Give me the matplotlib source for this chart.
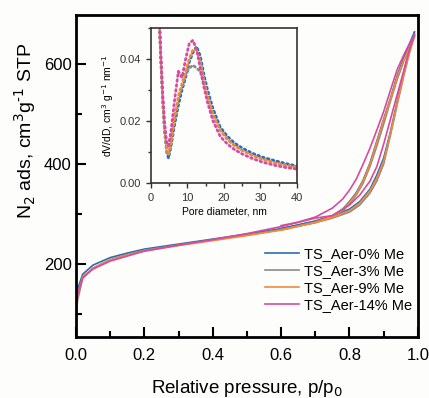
import numpy as np
import matplotlib
matplotlib.use('Agg')
import matplotlib.pyplot as plt
from matplotlib.ticker import MultipleLocator, FormatStrFormatter

plt.rcParams['font.family'] = ['Liberation Sans', 'DejaVu Sans']

# N2 isotherms: adsorption / desorption branches
p_ads = [0.0, 0.005, 0.02, 0.05, 0.1, 0.15, 0.2, 0.3, 0.4, 0.5, 0.6, 0.7,
         0.75, 0.8, 0.83, 0.86, 0.88, 0.9, 0.92, 0.94, 0.96, 0.975, 0.99]
p_des = [0.99, 0.975, 0.96, 0.94, 0.92, 0.9, 0.88, 0.86, 0.84, 0.82, 0.8,
         0.78, 0.75, 0.7, 0.65, 0.6]

ads_0 = [110, 150, 180, 198, 213, 222, 230, 240, 250, 260, 271, 286,
         296, 310, 325, 350, 378, 412, 465, 527, 587, 627, 664]
des_0 = [664, 640, 615, 578, 532, 490, 446, 402, 368, 343, 325,
         310, 297, 286, 278, 271]
ads_3 = [100, 128, 172, 192, 209, 219, 228, 238, 248, 258, 269, 283,
         292, 304, 318, 342, 366, 400, 458, 520, 580, 622, 658]
des_3 = [658, 632, 608, 570, 526, 480, 436, 395, 362, 338, 320,
         306, 294, 283, 276, 269]
ads_9 = [105, 140, 175, 192, 208, 218, 226, 237, 247, 257, 268, 283,
         293, 307, 322, 347, 372, 406, 462, 523, 583, 622, 655]
des_9 = [655, 630, 610, 575, 530, 488, 444, 400, 366, 341, 323,
         309, 296, 284, 276, 268]
ads_14 = [105, 140, 173, 190, 206, 216, 226, 238, 249, 261, 275, 292,
          297, 318, 338, 366, 395, 440, 490, 540, 590, 628, 658]
des_14 = [658, 640, 620, 590, 548, 505, 468, 432, 400, 370, 348,
          330, 312, 294, 284, 277]

# pore size distribution
D = [2.3, 2.7, 3.2, 3.7, 4.3, 4.8, 5.5, 6.5, 7.5, 8.5, 9.5, 10.5, 11.5,
     12.5, 13.5, 14.5, 15.5, 17, 19, 21, 23, 25, 28, 31, 34, 37, 40]
psd_0 = [0.052, 0.040, 0.027, 0.017, 0.010, 0.008, 0.012, 0.019, 0.025,
         0.030, 0.034, 0.039, 0.042, 0.044, 0.041, 0.035, 0.030, 0.024,
         0.018, 0.0150, 0.0128, 0.0113, 0.0095, 0.0082, 0.0072, 0.0063, 0.0055]
psd_3 = [0.052, 0.040, 0.027, 0.017, 0.011, 0.009, 0.013, 0.021, 0.027,
         0.031, 0.035, 0.037, 0.038, 0.037, 0.036, 0.032, 0.028, 0.022,
         0.017, 0.0140, 0.0120, 0.0106, 0.0089, 0.0076, 0.0066, 0.0058, 0.0051]
psd_9 = [0.052, 0.040, 0.027, 0.018, 0.011, 0.009, 0.013, 0.021, 0.028,
         0.032, 0.036, 0.040, 0.043, 0.043, 0.039, 0.033, 0.028, 0.022,
         0.017, 0.0140, 0.0120, 0.0105, 0.0088, 0.0075, 0.0065, 0.0057, 0.0050]
psd_14 = [0.052, 0.041, 0.029, 0.020, 0.013, 0.012, 0.017, 0.027, 0.036,
          0.034, 0.040, 0.045, 0.046, 0.043, 0.037, 0.031, 0.026, 0.020,
          0.015, 0.0125, 0.0107, 0.0094, 0.0078, 0.0066, 0.0057, 0.0050, 0.0045]

labels = ['TS_Aer-0% Me', 'TS_Aer-3% Me', 'TS_Aer-9% Me', 'TS_Aer-14% Me']
colors = ['#2b6cb3', '#8a8a8a', '#f08a3a', '#d84a9e']

fig = plt.figure(figsize=(4.29, 3.98), dpi=100)
fig.patch.set_facecolor('#fdfdfc')
ax = fig.add_axes([0.177, 0.153, 0.797, 0.809])
ax.set_facecolor('#fdfdfc')

iso = [(ads_0, des_0), (ads_3, des_3), (ads_9, des_9), (ads_14, des_14)]
for (a, d), c, lab in zip(iso, colors, labels):
    ax.plot(p_ads, a, color=c, lw=1.2, label=lab)
    ax.plot(p_des, d, color=c, lw=1.2)

ax.set_xlim(0, 1.0)
ax.set_ylim(54, 698)
ax.xaxis.set_major_locator(MultipleLocator(0.2))
ax.xaxis.set_minor_locator(MultipleLocator(0.1))
ax.yaxis.set_major_locator(MultipleLocator(200))
ax.yaxis.set_minor_locator(MultipleLocator(100))
ax.tick_params(which='both', direction='in', width=1.5, labelsize=12)
ax.tick_params(which='major', length=7)
ax.tick_params(which='minor', length=4.5)
ax.tick_params(axis='x', pad=8)
ax.tick_params(axis='y', pad=3)
for s in ax.spines.values():
    s.set_linewidth(2)
ax.set_xlabel('Relative pressure, p/p$_0$', fontsize=13.5)
ax.set_ylabel('N$_2$ ads, cm$^3$g$^{\\text{-}1}$ STP', fontsize=14)
ax.xaxis.set_label_coords(0.5, -0.128)
ax.yaxis.set_label_coords(-0.112, 0.64)

leg = ax.legend(loc='upper left', bbox_to_anchor=(0.553, 0.28),
                frameon=False, fontsize=10.5, handlelength=2.3,
                handletextpad=0.35, labelspacing=0.2, borderpad=0,
                borderaxespad=0)

# inset: pore size distribution
ins = fig.add_axes([0.352, 0.540, 0.340, 0.390])
ins.set_facecolor('#fdfdfc')
for y, c in zip([psd_0, psd_3, psd_9, psd_14], colors):
    ins.plot(D, y, color=c, lw=2, linestyle=(0, (0.6, 1.2)),
             dash_capstyle='round')
ins.set_xlim(0, 40)
ins.set_ylim(0, 0.05)
ins.xaxis.set_major_locator(MultipleLocator(10))
ins.xaxis.set_minor_locator(MultipleLocator(5))
ins.yaxis.set_major_locator(MultipleLocator(0.02))
ins.yaxis.set_minor_locator(MultipleLocator(0.01))
ins.yaxis.set_major_formatter(FormatStrFormatter('%.2f'))
ins.tick_params(which='both', direction='out', width=1, labelsize=8,
                colors='#333333')
ins.tick_params(which='major', length=3.5)
ins.tick_params(which='minor', length=2)
for s in ins.spines.values():
    s.set_linewidth(1.2)
    s.set_color('#333333')
ins.set_xlabel('Pore diameter, nm', fontsize=7.5, labelpad=3)
ins.set_ylabel('dV/dD, cm$^3$ g$^{-1}$ nm$^{-1}$', fontsize=7.5, labelpad=3)

fig.savefig('out.png', dpi=100, facecolor=fig.get_facecolor())
